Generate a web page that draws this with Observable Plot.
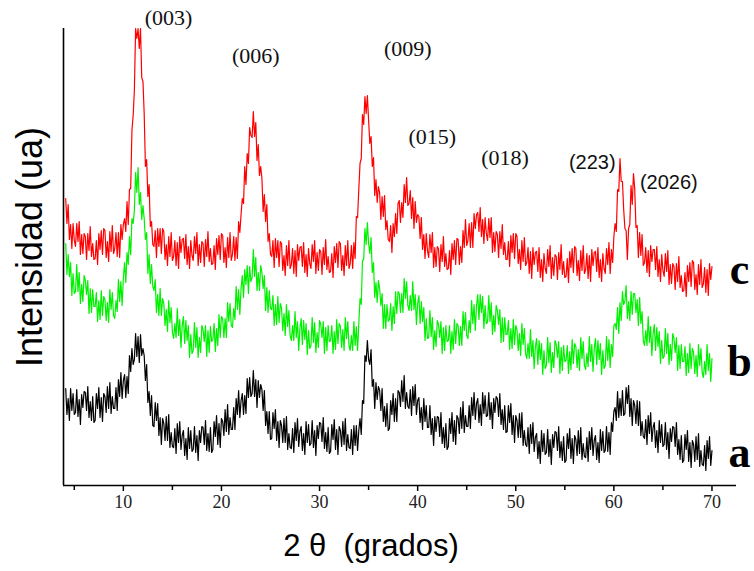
<!DOCTYPE html>
<html><head><meta charset="utf-8">
<script src="https://cdn.jsdelivr.net/npm/d3@7"></script>
<script src="https://cdn.jsdelivr.net/npm/@observablehq/plot@0.6"></script>
<style>body{margin:0;background:#fff}</style>
</head><body><div id="chart"></div>
<script>
// 2θ sampling grid (degrees), 0.125° step, 4.125 … 70
const twoTheta = d3.range(4.125, 70.001, 0.125);

// Intensity (a.u., offset curves); one row per degree (8 samples)
const serieC = [
287,262,281,246,261,237,262,245, 239,262,244,264,231,251,232,252, 249,226,252,235,259,229,242,226,
227,245,221,252,236,255,231,257, 255,228,244,224,254,234,260,232, 237,253,229,253,228,261,246,261,
267,254,284,261,296,297,355,370, 395,457,447,457,437,457,408,404, 372,319,326,289,301,259,264,241,
239,255,228,257,239,257,232,257, 254,226,241,220,249,229,253,225, 229,245,220,243,217,249,233,246,
247,227,251,221,239,217,245,230, 225,249,232,253,220,241,223,244, 242,219,246,229,254,224,237,221,
222,240,216,247,231,250,226,252, 250,223,238,218,248,228,253,225, 231,249,225,248,227,264,253,271,
287,282,319,301,332,322,358,350, 348,374,349,363,325,341,310,319, 307,274,291,264,281,244,252,231,
229,245,218,247,228,245,219,244, 242,215,230,210,240,220,245,217, 221,237,212,235,209,241,225,238,
239,219,243,213,231,209,237,222, 217,241,224,245,212,233,215,236, 234,211,238,221,246,216,229,213,
214,232,208,239,223,242,218,244, 242,215,230,210,240,220,245,217, 222,240,217,243,227,269,268,296,
322,327,371,361,389,372,390,365, 342,349,319,328,290,306,283,299, 293,266,289,269,290,256,265,246,
244,260,233,262,249,272,252,282, 285,263,283,268,301,283,308,280, 282,295,267,288,257,284,263,271,
269,247,268,236,251,227,252,235, 228,251,233,253,218,238,219,239, 237,214,241,224,249,219,232,216,
217,235,211,242,226,245,221,247, 246,221,239,223,255,238,266,240, 245,262,238,263,238,272,257,271,
273,254,278,249,266,242,268,252, 245,267,248,268,233,253,234,254, 251,228,254,237,261,231,243,226,
226,244,219,250,233,252,227,252, 249,222,236,216,245,224,248,220, 223,238,212,234,207,238,221,233,
234,214,238,208,226,204,232,217, 212,236,219,240,207,228,210,231, 229,206,233,216,241,211,224,208,
209,227,203,234,218,237,213,239, 237,210,225,205,235,215,240,212, 216,232,207,230,204,236,220,233,
234,214,238,208,226,204,232,217, 212,237,221,243,212,236,223,249, 262,254,296,294,327,304,304,276,
257,255,226,257,261,300,281,312, 297,258,260,228,253,230,251,220, 223,238,213,235,209,240,224,236,
236,216,239,209,226,204,231,215, 209,232,214,235,201,221,202,222, 219,196,222,204,229,198,210,194,
195,213,189,220,204,223,199,225, 223,196,211,191,221,201,226,198, 202,218,193,216,190,222,206,219
];
const serieB = [
242,211,231,209,223,190,212,192, 194,221,194,213,182,201,184,210, 205,191,205,172,197,173,196,179,
179,193,164,185,166,195,170,189, 186,165,183,163,196,176,193,170, 167,185,174,206,184,204,180,207,
223,203,233,221,249,231,267,262, 275,313,293,318,281,293,266,280, 267,246,253,212,231,202,221,199,
195,206,173,191,170,197,170,187, 182,160,176,154,185,163,178,153, 147,162,148,177,150,166,138,160,
169,142,165,145,160,128,151,132, 135,163,138,158,128,148,133,160, 156,144,160,129,155,133,159,144,
146,162,134,157,140,171,148,169, 167,148,167,148,183,164,182,160, 158,177,166,199,176,196,171,197,
210,188,216,201,220,192,219,204, 208,236,209,228,195,213,195,220, 213,197,210,175,198,173,195,177,
176,190,160,181,161,189,163,182, 177,155,172,150,181,159,175,150, 145,160,145,174,148,164,135,157,
167,141,165,146,162,131,155,137, 140,168,143,163,133,153,138,165, 161,148,164,132,158,135,160,144,
145,160,132,154,136,166,142,162, 159,138,156,135,168,147,164,140, 135,150,135,164,140,159,135,162,
187,181,225,226,257,241,263,242, 232,248,213,223,188,203,183,205, 197,180,192,157,181,157,181,164,
166,182,155,179,162,194,172,194, 192,173,192,173,207,187,204,180, 175,190,175,204,176,191,161,182,
190,162,184,164,178,145,167,147, 148,175,149,168,136,155,139,165, 161,148,164,132,158,135,160,144,
145,160,132,154,136,166,142,162, 160,140,159,140,174,155,173,150, 147,165,153,185,162,181,155,180,
191,166,191,173,189,157,180,162, 163,190,164,183,151,170,154,180, 175,161,176,143,168,144,168,151,
151,165,136,157,137,166,141,160, 156,135,152,130,162,141,157,132, 127,142,127,156,129,145,117,139,
147,121,145,126,142,111,135,117, 120,148,123,143,113,133,118,145, 141,128,144,112,138,115,140,124,
125,140,112,134,116,146,122,142, 139,118,136,115,148,127,144,120, 116,132,119,149,124,141,114,137,
147,121,145,126,142,111,135,117, 120,149,125,146,118,141,129,160, 162,156,178,152,183,165,194,181,
184,200,167,184,165,194,171,192, 192,173,186,160,188,162,174,145, 140,155,140,169,143,159,130,152,
161,135,158,139,154,122,145,127, 129,157,132,152,121,141,125,152, 147,133,148,115,140,117,141,124,
124,139,110,132,113,142,117,137, 133,112,130,109,141,120,137,113, 108,124,111,141,115,132,104,127
];
const serieA = [
97,71,87,65,97,75,92,71, 73,96,69,86,61,91,78,94, 93,75,99,68,84,65,89,63,
65,92,77,98,68,88,64,92, 89,73,99,77,103,72,89,77, 77,98,75,106,89,113,87,105,
111,88,109,92,130,114,137,121, 126,152,129,149,123,151,130,137, 130,105,121,83,94,70,90,60,
59,83,65,82,50,68,41,67, 62,45,69,45,71,38,53,39, 38,57,32,62,43,64,36,50,
55,30,47,26,58,37,55,34, 36,59,33,50,25,55,43,59, 58,41,65,35,52,34,58,33,
36,64,49,70,41,62,38,67, 64,50,76,54,81,51,68,56, 56,78,56,87,71,95,68,85,
92,71,90,72,107,88,108,89, 92,115,89,106,78,105,88,101, 96,75,95,60,74,52,74,46,
47,73,57,76,45,64,38,65, 60,43,67,43,69,36,52,38, 37,57,33,63,45,67,39,54,
59,35,52,31,64,43,61,40, 42,65,38,55,30,60,47,63, 62,44,68,37,53,34,58,32,
34,61,46,66,36,56,31,59, 55,39,64,41,67,35,51,38, 37,56,31,60,40,60,35,55,
67,51,85,82,130,124,145,126, 121,136,99,106,77,103,86,99, 95,75,97,64,79,59,82,55,
57,85,71,92,64,87,64,95, 93,79,105,84,110,77,93,79, 77,96,70,99,80,101,71,85,
88,63,78,56,87,64,80,58, 58,80,51,67,40,69,54,69, 68,49,73,42,58,38,62,36,
39,67,52,73,44,65,41,70, 67,52,78,57,84,53,70,59, 59,80,57,88,70,93,66,82,
87,63,81,60,93,72,90,69, 70,93,66,83,57,87,73,89, 87,69,92,61,76,56,80,53,
54,80,63,82,51,70,43,70, 65,48,72,48,73,40,55,41, 39,58,32,61,42,63,34,48,
52,27,44,22,55,34,52,31, 33,56,29,46,21,51,38,54, 53,35,59,28,44,25,49,23,
25,52,37,57,27,47,22,50, 46,30,55,32,58,26,42,29, 28,48,24,54,36,58,30,45,
50,26,43,23,56,35,54,33, 35,59,34,53,31,63,54,74, 78,65,94,68,87,70,95,70,
72,98,82,100,69,87,60,85, 80,62,85,60,84,50,64,49, 47,66,41,70,52,73,44,58,
63,38,55,33,65,43,61,39, 41,63,36,53,27,57,44,59, 58,39,63,31,46,26,50,23,
25,51,36,55,24,43,18,45, 41,24,49,26,52,19,35,21, 20,40,15,45,27,49,20,35
];

const seriesNames = ["c", "b", "a"];
const seriesColors = ["#ff0000", "#00f000", "#000000"];
const seriesValues = [serieC, serieB, serieA];
const seriesLabelY = [216, 124, 33];

const hklSerif = ["(003)", "(006)", "(009)", "(015)", "(018)"];
const hklSerifX = [14.6, 23.5, 39.0, 41.5, 48.9];
const hklSerifY = [468, 430, 437, 349, 328];
const hklSans = ["(223)", "(2026)"];
const hklSansX = [57.8, 65.6];
const hklSansY = [323, 303];

const majorTicks = [10, 20, 30, 40, 50, 60, 70];
const minorTicks = [5, 15, 25, 35, 45, 55, 65];

const rows = seriesNames.flatMap((s, j) =>
  twoTheta.map((t, i) => ({t, v: seriesValues[j][i], s})));

const serifFont = "'Liberation Serif', 'Times New Roman', serif";
const sansFont = "'Liberation Sans', Arial, sans-serif";

const chart = Plot.plot({
  width: 754, height: 571,
  marginLeft: 63, marginRight: 18, marginTop: 28, marginBottom: 86,
  x: {domain: [3.9, 72.5]},
  y: {domain: [0, 457], axis: null},
  color: {domain: seriesNames, range: seriesColors},
  style: {background: "#fff"},
  marks: [
    Plot.lineY(rows, {x: "t", y: "v", z: "s", stroke: "s", strokeWidth: 1.2}),
    Plot.ruleY([0], {stroke: "#000", strokeWidth: 1.6}),
    Plot.ruleX([3.9], {stroke: "#000", strokeWidth: 1.6}),
    Plot.axisX({ticks: majorTicks, tickSize: 6, tickPadding: 4, strokeWidth: 1.5,
      fontSize: 18, fontFamily: serifFont, fill: "#222", label: null}),
    Plot.axisX({ticks: minorTicks, tickSize: 5, strokeWidth: 1.5, tickFormat: () => "", label: null}),
    Plot.text(hklSerif, {x: (d, i) => hklSerifX[i], y: (d, i) => hklSerifY[i], text: d => d,
      fontSize: 22, fontFamily: serifFont, fill: "#111"}),
    Plot.text(hklSans, {x: (d, i) => hklSansX[i], y: (d, i) => hklSansY[i], text: d => d,
      fontSize: 20, fontFamily: sansFont, fill: "#111"}),
    Plot.text(seriesNames, {x: 72.8, y: (d, i) => seriesLabelY[i], text: d => d,
      fontSize: 44, fontWeight: "bold", fontFamily: serifFont, fill: "#000"}),
    Plot.text(["2 θ  (grados)"], {frameAnchor: "bottom", textAnchor: "middle", dx: -29, dy: 70, text: d => d,
      fontSize: 31, fontFamily: sansFont, fill: "#000"}),
    Plot.text(["Intensidad (ua)"], {frameAnchor: "left", textAnchor: "middle", dx: -33, dy: -10, rotate: -90, text: d => d,
      fontSize: 36, fontFamily: sansFont, fill: "#000"})
  ]
});
document.getElementById("chart").appendChild(chart);
</script>
</body></html>
